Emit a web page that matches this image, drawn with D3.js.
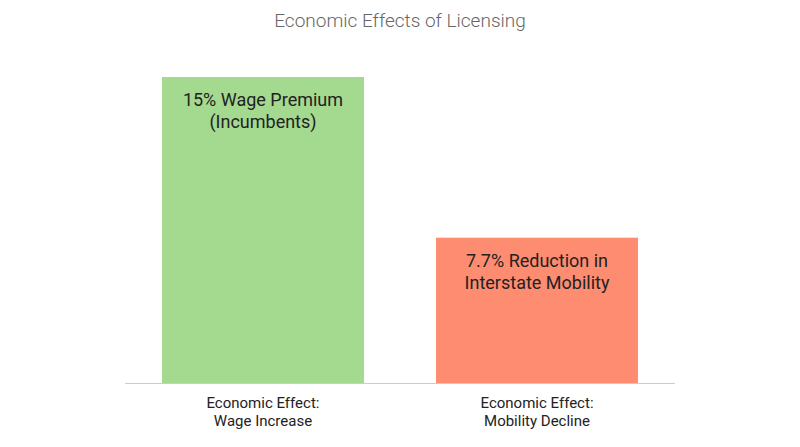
<!DOCTYPE html>
<html><head><meta charset="utf-8">
<script src="https://cdn.jsdelivr.net/npm/d3@7"></script>
<style>body{margin:0;background:#fff;font-family:Roboto,"Open Sans",sans-serif}</style>
</head><body><div id="chart"></div>
<script>
var categories = [["Economic Effect:", "Wage Increase"], ["Economic Effect:", "Mobility Decline"]];
var values = [15, 7.7];
var barLabels = [["15% Wage Premium", "(Incumbents)"], ["7.7% Reduction in", "Interstate Mobility"]];
var colors = ["#a4d990", "#fd8c70"];

var width = 800, height = 447;
var svg = d3.select("#chart").append("svg").attr("width", width).attr("height", height);

var x = d3.scaleBand().domain([0, 1]).range([125, 675]).paddingInner(0.263).paddingOuter(0.135);
var y = d3.scaleLinear().domain([1.1, 15]).range([383, 77]);

svg.append("text").attr("x", 400).attr("y", 27).attr("text-anchor", "middle")
	.attr("fill", "#666").attr("font-size", 19).attr("font-weight", 300)
	.text("Economic Effects of Licensing");

svg.selectAll("rect.bar").data(values).enter().append("rect")
	.attr("x", function(d, i){ return x(i); })
	.attr("y", function(d){ return y(d); })
	.attr("width", x.bandwidth())
	.attr("height", function(d){ return 383 - y(d); })
	.attr("fill", function(d, i){ return colors[i]; });

svg.append("line").attr("x1", 125).attr("x2", 675).attr("y1", 383.5).attr("y2", 383.5)
	.attr("stroke", "#ccc");

values.forEach(function(v, i){
	var cx = x(i) + x.bandwidth() / 2;
	barLabels[i].forEach(function(t, j){
		svg.append("text").attr("x", cx).attr("y", y(v) + 29 + j * 22)
			.attr("text-anchor", "middle").attr("font-size", 18).attr("fill", "#222").text(t);
	});
	categories[i].forEach(function(t, j){
		svg.append("text").attr("x", cx).attr("y", 408 + j * 18)
			.attr("text-anchor", "middle").attr("font-size", 15).attr("fill", "#222").text(t);
	});
});
</script></body></html>
